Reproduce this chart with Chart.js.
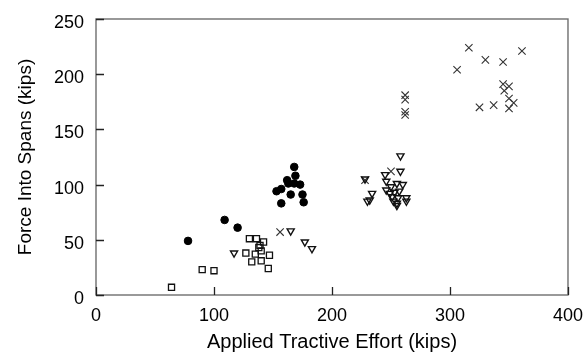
<!DOCTYPE html>
<html>
<head>
<meta charset="utf-8">
<script src="https://cdn.jsdelivr.net/npm/chart.js@4/dist/chart.umd.min.js"></script>
<style>
  html, body { margin: 0; padding: 0; background: #fff; }
  #wrap { width: 585px; height: 354px; }
</style>
</head>
<body>
<div id="wrap"><canvas id="c" width="585" height="354"></canvas></div>
<script>
// ---- data ----
const xTicks = [0, 100, 200, 300, 400];
const yTicks = [0, 50, 100, 150, 200, 250];
const xTitle = "Applied Tractive Effort (kips)";
const yTitle = "Force Into Spans (kips)";

const squaresX = [64, 90, 100, 130, 136, 142, 139, 140, 135, 147, 127, 132, 140, 146, 138];
const squaresY = [7, 23, 22, 51, 51, 48, 45, 40, 37, 36, 38, 30, 31, 24, 43];

const circlesX = [78, 109, 120, 157, 153, 157, 162, 163, 165, 168, 168, 169, 173, 175, 176];
const circlesY = [49, 68, 61, 96, 94, 83, 104, 101, 91, 101, 116, 108, 100, 91, 84];

const trianglesX = [117, 165, 177, 183, 228, 230, 232, 234, 245, 246, 246, 249, 250, 251, 252, 253, 255, 255, 255, 256, 257, 258, 258, 260, 263, 263];
const trianglesY = [38, 58, 48, 42, 105, 85, 86, 92, 109, 103, 95, 92, 98, 89, 85, 93, 101, 83, 81, 88, 94, 112, 126, 100, 88, 85];

const crossesX = [156, 228, 250, 262, 262, 262, 262, 306, 316, 325, 330, 337, 345, 345, 346, 350, 350, 350, 354, 361];
const crossesY = [57, 104, 112, 181, 177, 166, 163, 204, 224, 170, 213, 172, 211, 191, 185, 189, 178, 169, 174, 221];

const toPts = (xs, ys) => xs.map((x, i) => ({ x: x, y: ys[i] }));

const frame = {
  id: 'frame',
  beforeDatasetsDraw(chart) {
    const { ctx, chartArea: a, scales } = chart;
    ctx.save();
    ctx.strokeStyle = '#6e6e6e';
    ctx.lineWidth = 1.4;
    ctx.strokeRect(a.left, a.top, a.right - a.left, a.bottom - a.top);
    ctx.strokeStyle = '#222';
    ctx.lineWidth = 1.3;
    ctx.beginPath();
    scales.x.ticks.forEach(t => {
      const px = Math.round(scales.x.getPixelForValue(t.value)) + 0.5;
      ctx.moveTo(px, a.bottom); ctx.lineTo(px, a.bottom - 8);
    });
    scales.y.ticks.forEach(t => {
      const py = Math.round(scales.y.getPixelForValue(t.value)) + 0.5;
      ctx.moveTo(a.left, py); ctx.lineTo(a.left + 8, py);
    });
    ctx.stroke();
    ctx.restore();
  }
};

const FONT = "'Liberation Sans', Arial, Helvetica, sans-serif";

new Chart(document.getElementById('c'), {
  type: 'scatter',
  data: {
    datasets: [
      { data: toPts(squaresX, squaresY), pointStyle: 'rect', pointRadius: 4.3,
        backgroundColor: 'rgba(255,255,255,0)', borderColor: '#111', borderWidth: 1.3 },
      { data: toPts(circlesX, circlesY), pointStyle: 'circle', pointRadius: 3.8,
        backgroundColor: '#000', borderColor: '#000', borderWidth: 1 },
      { data: toPts(trianglesX, trianglesY), pointStyle: 'triangle', rotation: 180, pointRadius: 4.1,
        backgroundColor: 'rgba(255,255,255,0)', borderColor: '#111', borderWidth: 1.4 },
      { data: toPts(crossesX, crossesY), pointStyle: 'crossRot', pointRadius: 5.2,
        backgroundColor: '#333', borderColor: '#333', borderWidth: 1.1 }
    ]
  },
  options: {
    responsive: false,
    animation: false,
    devicePixelRatio: 1,
    layout: { padding: { top: 19, right: 16, left: 0, bottom: 0 } },
    plugins: { legend: { display: false }, tooltip: { enabled: false } },
    scales: {
      x: {
        type: 'linear', min: 0, max: 400,
        afterBuildTicks: s => { s.ticks = xTicks.map(v => ({ value: v })); },
        afterFit: s => { s.height = 59; },
        grid: { display: false },
        border: { display: false },
        ticks: { color: '#000', padding: 2, font: { family: FONT, size: 18 }, maxRotation: 0 },
        title: { display: true, text: xTitle, color: '#000', padding: { top: 2, bottom: 0 },
                 font: { family: FONT, size: 20 } }
      },
      y: {
        type: 'linear', min: 0, max: 250,
        afterBuildTicks: s => { s.ticks = yTicks.map(v => ({ value: v })); },
        afterFit: s => { s.width = 96; },
        grid: { display: false },
        border: { display: false },
        ticks: { color: '#000', padding: 4, labelOffset: 4, font: { family: FONT, size: 18 } },
        title: { display: true, text: yTitle, color: '#000', padding: { top: 14, bottom: 0 },
                 font: { family: FONT, size: 19 } }
      }
    }
  },
  plugins: [frame]
});
</script>
</body>
</html>
